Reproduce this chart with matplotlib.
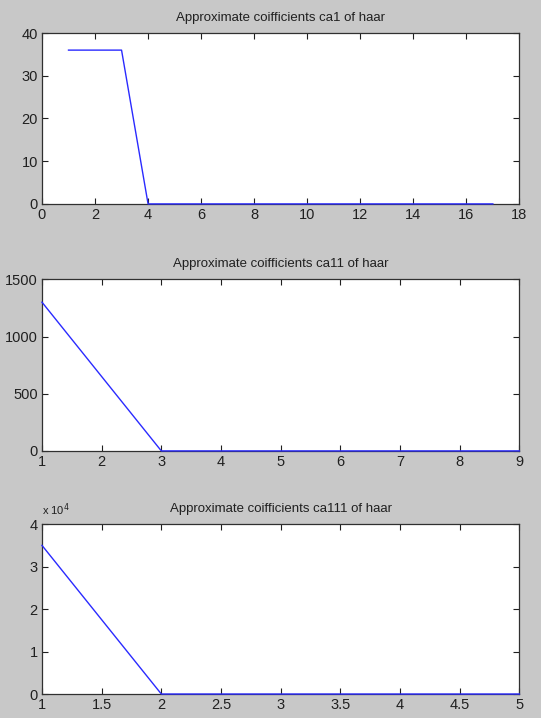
import matplotlib
matplotlib.use("Agg")
import matplotlib.pyplot as plt
from matplotlib.ticker import FuncFormatter, MultipleLocator

plt.rcParams['font.family'] = ['Liberation Sans', 'DejaVu Sans']

# Approximation coefficients at three decomposition levels (haar wavelet)
ca1_x = list(range(1, 18))
ca1_y = [36, 36, 36] + [0] * 14

ca11_x = list(range(1, 10))
ca11_y = [1300, 650] + [0] * 7

ca111_x = list(range(1, 6))
ca111_y = [35000, 0, 0, 0, 0]

titles = ["Approximate coifficients ca1 of haar",
          "Approximate coifficients ca11 of haar",
          "Approximate coifficients ca111 of haar"]

fig = plt.figure(figsize=(5.41, 7.18), dpi=100, facecolor='#c8c8c8')

left, width = 0.0776, 0.8824
boxes = [(0.716, 0.238), (0.372, 0.239), (0.0334, 0.2366)]

series = [(ca1_x, ca1_y), (ca11_x, ca11_y), (ca111_x, ca111_y)]
xlims = [(0, 18), (1, 9), (1, 5)]
ylims = [(0, 40), (0, 1500), (0, 40000)]
xsteps = [2, 1, 0.5]
ysteps = [10, 500, 10000]

for i, ((b, h), (xs, ys)) in enumerate(zip(boxes, series)):
    ax = fig.add_axes([left, b, width, h])
    ax.set_facecolor('white')
    ax.plot(xs, ys, color='#2a2aff', lw=1.0, zorder=5, clip_on=False)
    ax.set_xlim(*xlims[i])
    ax.set_ylim(*ylims[i])
    ax.xaxis.set_major_locator(MultipleLocator(xsteps[i]))
    ax.yaxis.set_major_locator(MultipleLocator(ysteps[i]))
    ax.tick_params(direction='in', top=True, right=True, length=4,
                   width=0.8, labelsize=10.5, pad=3, colors='#202020')
    for sp in ax.spines.values():
        sp.set_color('#303030')
        sp.set_linewidth(0.9)
    ax.set_title(titles[i], fontsize=9.5, pad=9, color='#202020')
    if i == 1:
        ax.xaxis.set_major_formatter(FuncFormatter(lambda v, p: f"{v:g}"))
    if i == 2:
        ax.yaxis.set_major_formatter(FuncFormatter(lambda v, p: f"{v / 1e4:g}"))
        ax.xaxis.set_major_formatter(FuncFormatter(lambda v, p: f"{v:g}"))
        ax.text(0.0, 1.035, r"x 10$^4$", transform=ax.transAxes,
                fontsize=8, ha='left', va='bottom', color='#202020')

fig.savefig("out.png", dpi=100, facecolor=fig.get_facecolor())
